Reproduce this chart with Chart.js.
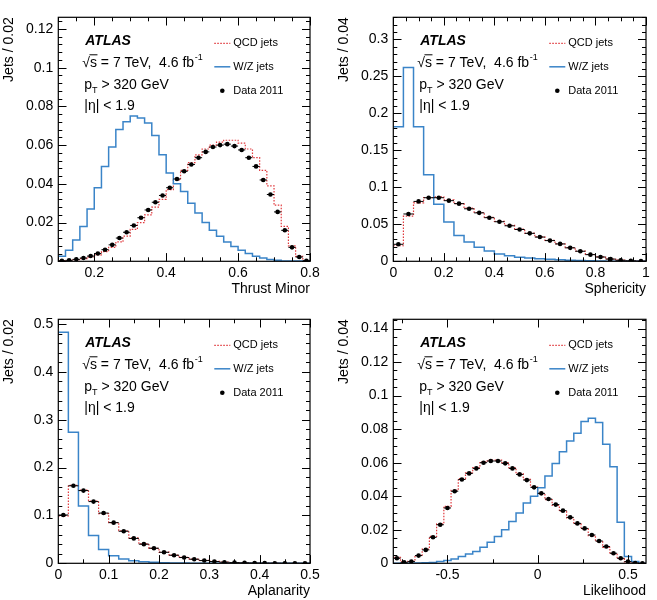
<!DOCTYPE html>
<html><head><meta charset="utf-8">
<script src="https://cdn.jsdelivr.net/npm/chart.js@4.4.1/dist/chart.umd.min.js"></script>
<style>
html,body{margin:0;padding:0;background:#fff;}
body{width:657px;height:600px;position:relative;overflow:hidden;}
canvas{position:absolute;}
</style></head><body>
<canvas id="c1" width="328" height="298" style="left:0;top:0"></canvas>
<canvas id="c2" width="322" height="298" style="left:335px;top:0"></canvas>
<canvas id="c3" width="328" height="298" style="left:0;top:302px"></canvas>
<canvas id="c4" width="322" height="298" style="left:335px;top:302px"></canvas>
<script>
// ---------- Thrust Minor (bins of 0.02 from 0.1) ----------
const tmBinStart = 0.1, tmBinWidth = 0.02;
const tmQCD = [0.0002,0.0004,0.0008,0.0014,0.0022,0.0033,0.005,0.0072,0.010,0.013,0.0165,0.020,0.024,0.028,0.032,0.037,0.042,0.047,0.051,0.055,0.058,0.060,0.0615,0.0625,0.0625,0.061,0.058,0.0535,0.047,0.039,0.029,0.018,0.008,0.0025,0.0004];
const tmWZ = [0.0026,0.0057,0.011,0.018,0.027,0.038,0.049,0.059,0.068,0.072,0.075,0.074,0.0714,0.065,0.055,0.0456,0.040,0.036,0.030,0.025,0.020,0.016,0.013,0.010,0.0077,0.0057,0.004,0.0026,0.0017,0.0009,0.0005,0.0002,0.0001,0.0001,0.0];
const tmData = [0.0003,0.0005,0.001,0.0017,0.0027,0.004,0.006,0.0085,0.012,0.015,0.0185,0.0225,0.0265,0.0305,0.034,0.038,0.0425,0.0465,0.050,0.0535,0.0565,0.059,0.060,0.0605,0.0595,0.0575,0.0535,0.049,0.042,0.0345,0.0255,0.016,0.0072,0.0022,0.0003];
const tmXTicks = [0.2,0.4,0.6,0.8], tmXLabels = ['0.2','0.4','0.6','0.8'];
const tmYTicks = [0,0.02,0.04,0.06,0.08,0.1,0.12], tmYLabels = ['0','0.02','0.04','0.06','0.08','0.1','0.12'];

// ---------- Sphericity (bins of 0.04 from 0) ----------
const spBinStart = 0, spBinWidth = 0.04;
const spQCD = [0.021,0.061,0.079,0.086,0.087,0.083,0.078,0.072,0.066,0.0595,0.054,0.0485,0.0435,0.038,0.033,0.0283,0.0237,0.0185,0.0138,0.0092,0.0059,0.0031,0.0015,0.0006,0.0002];
const spWZ = [0.182,0.262,0.182,0.117,0.077,0.053,0.035,0.026,0.019,0.014,0.010,0.0075,0.0055,0.0045,0.0036,0.0028,0.002,0.0015,0.001,0.0007,0.0004,0.0002,0.0001,0.0,0.0];
const spData = [0.023,0.064,0.081,0.086,0.086,0.082,0.078,0.071,0.0655,0.059,0.0535,0.048,0.043,0.0378,0.0328,0.028,0.0235,0.0182,0.0136,0.009,0.0058,0.003,0.0014,0.0006,0.0002];
const spXTicks = [0,0.2,0.4,0.6,0.8,1], spXLabels = ['0','0.2','0.4','0.6','0.8','1'];
const spYTicks = [0,0.05,0.1,0.15,0.2,0.25,0.3], spYLabels = ['0','0.05','0.1','0.15','0.2','0.25','0.3'];

// ---------- Aplanarity (bins of 0.02 from 0) ----------
const apBinStart = 0, apBinWidth = 0.02;
const apQCD = [0.099,0.163,0.153,0.130,0.104,0.085,0.068,0.053,0.0405,0.031,0.0235,0.017,0.0123,0.0088,0.006,0.0039,0.0024,0.0015,0.0009,0.0005,0.0003,0.0002,0.0001,0.0001,0.0];
const apWZ = [0.483,0.274,0.12,0.058,0.029,0.016,0.009,0.0055,0.0035,0.002,0.0012,0.0007,0.0004,0.0002,0.0001,0,0,0,0,0,0,0,0,0,0];
const apData = [0.101,0.162,0.152,0.129,0.105,0.085,0.067,0.052,0.040,0.0315,0.023,0.0168,0.012,0.0085,0.0057,0.0037,0.0023,0.0014,0.0009,0.0005,0.0003,0.0002,0.0001,0.0001,0.0];
const apXTicks = [0,0.1,0.2,0.3,0.4,0.5], apXLabels = ['0','0.1','0.2','0.3','0.4','0.5'];
const apYTicks = [0,0.1,0.2,0.3,0.4,0.5], apYLabels = ['0','0.1','0.2','0.3','0.4','0.5'];

// ---------- Likelihood (bins of 0.04 from -0.8) ----------
const lkBinStart = -0.8, lkBinWidth = 0.04;
const lkQCD = [0.0035,0.001,0.0012,0.0045,0.0085,0.016,0.0235,0.034,0.0435,0.0505,0.054,0.057,0.0605,0.0615,0.0615,0.060,0.057,0.0535,0.050,0.0455,0.0415,0.038,0.0345,0.031,0.027,0.0235,0.0205,0.0165,0.013,0.0095,0.0058,0.0028,0.0009,0.0002,0.0];
const lkWZ = [0,0,0.0001,0.0002,0.0003,0.0005,0.001,0.0016,0.0026,0.004,0.0056,0.007,0.0095,0.0125,0.016,0.020,0.025,0.030,0.036,0.040,0.045,0.052,0.0595,0.0665,0.073,0.0775,0.0845,0.0865,0.084,0.071,0.0576,0.0245,0.004,0.001,0];
const lkData = [0.003,0.0006,0.001,0.0046,0.008,0.0155,0.023,0.033,0.043,0.050,0.0536,0.0566,0.060,0.061,0.061,0.0596,0.0566,0.053,0.0496,0.0453,0.0417,0.0383,0.035,0.0314,0.0274,0.0238,0.0208,0.0169,0.0133,0.010,0.006,0.003,0.001,0.0002,0.0];
const lkXTicks = [-0.5,0,0.5], lkXLabels = ['-0.5','0','0.5'];
const lkYTicks = [0,0.02,0.04,0.06,0.08,0.1,0.12,0.14], lkYLabels = ['0','0.02','0.04','0.06','0.08','0.1','0.12','0.14'];

const FONT = '"Liberation Sans", Arial, Helvetica, sans-serif';
const RED = '#e0383c', BLUE = '#3a84c8';

function stepPts(start, w, vals) {
  const pts = vals.map((v, i) => ({x: start + i * w, y: v}));
  pts.push({x: start + vals.length * w, y: vals[vals.length - 1]});
  return pts;
}
function centerPts(start, w, vals) {
  return vals.map((v, i) => ({x: start + (i + 0.5) * w, y: v}));
}
function xErrPts(start, w, vals) {
  const pts = [];
  vals.forEach((v, i) => {
    pts.push({x: start + i * w, y: v}, {x: start + (i + 1) * w, y: v}, {x: start + (i + 1) * w, y: null});
  });
  return pts;
}
function multiples(min, max, step) {
  const out = [];
  const k0 = Math.ceil(min / step - 1e-6), k1 = Math.floor(max / step + 1e-6);
  for (let k = k0; k <= k1; k++) out.push(k * step);
  return out;
}

const frameTicks = {
  id: 'frameTicks',
  afterDatasetsDraw(chart) {
    const o = chart.options.plugins.frameTicks;
    const {ctx, chartArea: a} = chart;
    const xs = chart.scales.x, ys = chart.scales.y;
    ctx.save();
    ctx.strokeStyle = '#000';
    ctx.lineWidth = 1;
    ctx.beginPath();
    const xMaj = xs.ticks.map(t => t.value), yMaj = ys.ticks.map(t => t.value);
    for (const v of multiples(xs.min, xs.max, o.xMinor).concat(xMaj)) {
      const major = xMaj.some(m => Math.abs(m - v) < 1e-9);
      const L = major ? 8 : 4;
      const px = Math.round(xs.getPixelForValue(v)) + 0.5;
      ctx.moveTo(px, a.bottom); ctx.lineTo(px, a.bottom - L);
      ctx.moveTo(px, a.top); ctx.lineTo(px, a.top + L);
    }
    for (const v of multiples(ys.min, ys.max, o.yMinor).concat(yMaj)) {
      const major = yMaj.some(m => Math.abs(m - v) < 1e-9);
      const L = major ? 8 : 4;
      const py = Math.round(ys.getPixelForValue(v)) + 0.5;
      ctx.moveTo(a.left, py); ctx.lineTo(a.left + L, py);
      ctx.moveTo(a.right, py); ctx.lineTo(a.right - L, py);
    }
    ctx.stroke();
    ctx.lineWidth = 1.2;
    ctx.strokeRect(a.left, a.top, a.right - a.left, a.bottom - a.top);
    ctx.restore();
  }
};

const annot = {
  id: 'annot',
  afterDraw(chart) {
    const {ctx, chartArea: a} = chart;
    const L = a.left, T = a.top;
    ctx.save();
    ctx.fillStyle = '#000';
    ctx.strokeStyle = '#000';
    ctx.textBaseline = 'middle';
    ctx.textAlign = 'left';
    ctx.font = 'italic bold 14px ' + FONT;
    ctx.fillText('ATLAS', L + 27, T + 24);
    ctx.font = '14px ' + FONT;
    let x = L + 24, y = T + 46;
    ctx.fillText('\u221A', x, y);
    x += ctx.measureText('\u221A').width;
    const sw = ctx.measureText('s').width;
    ctx.fillText('s', x, y);
    ctx.beginPath(); ctx.lineWidth = 1;
    ctx.moveTo(x - 0.5, y - 8.5); ctx.lineTo(x + sw + 0.5, y - 8.5); ctx.stroke();
    x += sw;
    const t1 = ' = 7 TeV,  4.6 fb';
    ctx.fillText(t1, x, y);
    x += ctx.measureText(t1).width;
    ctx.font = '9px ' + FONT;
    ctx.fillText('-1', x + 0.5, y - 6);
    ctx.font = '14px ' + FONT;
    x = L + 26; y = T + 68;
    ctx.fillText('p', x, y);
    x += ctx.measureText('p').width;
    ctx.font = '9px ' + FONT;
    ctx.fillText('T', x, y + 5);
    x += ctx.measureText('T').width;
    ctx.font = '14px ' + FONT;
    ctx.fillText(' > 320 GeV', x, y);
    ctx.fillText('|\u03B7| < 1.9', L + 26, T + 89);
    // legend
    ctx.font = '11px ' + FONT;
    const lx0 = L + 156, lx1 = L + 172, tx = L + 175;
    ctx.beginPath(); ctx.strokeStyle = RED; ctx.lineWidth = 1.2; ctx.setLineDash([1.5, 1.5]);
    ctx.moveTo(lx0, T + 26); ctx.lineTo(lx1, T + 26); ctx.stroke();
    ctx.setLineDash([]);
    ctx.beginPath(); ctx.strokeStyle = BLUE; ctx.lineWidth = 1.5;
    ctx.moveTo(lx0, T + 49.5); ctx.lineTo(lx1, T + 49.5); ctx.stroke();
    ctx.beginPath(); ctx.fillStyle = '#000';
    ctx.arc((lx0 + lx1) / 2, T + 73.5, 2.3, 0, Math.PI * 2); ctx.fill();
    ctx.fillText('QCD jets', tx, T + 26);
    ctx.fillText('W/Z jets', tx, T + 49.5);
    ctx.fillText('Data 2011', tx, T + 73.5);
    ctx.restore();
  }
};

function makePanel(id, p) {
  const ctx = document.getElementById(id).getContext('2d');
  new Chart(ctx, {
    type: 'line',
    data: {
      datasets: [
        {label: 'Data 2011', data: centerPts(p.start, p.width, p.data), showLine: false,
         pointRadius: 2.3, pointBorderWidth: 0, pointBackgroundColor: '#000', borderColor: '#000', order: 0},
        {label: 'Data 2011 x-err', data: xErrPts(p.start, p.width, p.data), borderColor: '#000',
         borderWidth: 1, pointRadius: 0, spanGaps: false, order: 1},
        {label: 'W/Z jets', data: stepPts(p.start, p.width, p.wz), stepped: true, borderColor: BLUE,
         borderWidth: 1.5, pointRadius: 0, fill: false, order: 2},
        {label: 'QCD jets', data: stepPts(p.start, p.width, p.qcd), stepped: true, borderColor: RED,
         borderWidth: 1.2, borderDash: [1.5, 1.5], pointRadius: 0, fill: false, order: 3}
      ]
    },
    options: {
      responsive: false, animation: false, events: [],
      layout: {padding: {left: 0, top: 17.3, right: p.padRight, bottom: 0}},
      plugins: {legend: {display: false}, tooltip: {enabled: false}, frameTicks: {xMinor: p.xMinor, yMinor: p.yMinor}},
      scales: {
        x: {
          type: 'linear', min: p.xmin, max: p.xmax,
          grid: {display: false, drawTicks: false}, border: {display: false},
          afterBuildTicks: s => { s.ticks = p.xTicks.map(v => ({value: v})); },
          afterFit: s => { s.height = 36.7; },
          ticks: {autoSkip: false, maxRotation: 0, padding: 3, color: '#000',
                  font: {family: FONT, size: 14}, callback: (v, i) => p.xLabels[i]},
          title: {display: true, text: p.xTitle, align: 'end', color: '#000',
                  font: {family: FONT, size: 14}, padding: {top: 0, bottom: 0}}
        },
        y: {
          type: 'linear', min: 0, max: p.ymax,
          grid: {display: false, drawTicks: false}, border: {display: false},
          afterBuildTicks: s => { s.ticks = p.yTicks.map(v => ({value: v})); },
          afterFit: s => { s.width = 58.3; },
          ticks: {autoSkip: false, padding: 5, color: '#000',
                  font: {family: FONT, size: 14}, callback: (v, i) => p.yLabels[i]},
          title: {display: true, text: p.yTitle, align: 'end', color: '#000',
                  font: {family: FONT, size: 14}, padding: {top: 1, bottom: 0}}
        }
      }
    },
    plugins: [frameTicks, annot]
  });
}

makePanel('c1', {start: tmBinStart, width: tmBinWidth, qcd: tmQCD, wz: tmWZ, data: tmData,
  xmin: 0.1, xmax: 0.8, ymax: 0.126, xTicks: tmXTicks, xLabels: tmXLabels, yTicks: tmYTicks, yLabels: tmYLabels,
  xMinor: 0.05, yMinor: 0.004, xTitle: 'Thrust Minor', yTitle: 'Jets / 0.02', padRight: 18});
makePanel('c2', {start: spBinStart, width: spBinWidth, qcd: spQCD, wz: spWZ, data: spData,
  xmin: 0, xmax: 1, ymax: 0.33, xTicks: spXTicks, xLabels: spXLabels, yTicks: spYTicks, yLabels: spYLabels,
  xMinor: 0.05, yMinor: 0.01, xTitle: 'Sphericity', yTitle: 'Jets / 0.04', padRight: 11});
makePanel('c3', {start: apBinStart, width: apBinWidth, qcd: apQCD, wz: apWZ, data: apData,
  xmin: 0, xmax: 0.5, ymax: 0.51, xTicks: apXTicks, xLabels: apXLabels, yTicks: apYTicks, yLabels: apYLabels,
  xMinor: 0.05, yMinor: 0.02, xTitle: 'Aplanarity', yTitle: 'Jets / 0.02', padRight: 18});
makePanel('c4', {start: lkBinStart, width: lkBinWidth, qcd: lkQCD, wz: lkWZ, data: lkData,
  xmin: -0.8, xmax: 0.6, ymax: 0.1455, xTicks: lkXTicks, xLabels: lkXLabels, yTicks: lkYTicks, yLabels: lkYLabels,
  xMinor: 0.25, yMinor: 0.005, xTitle: 'Likelihood', yTitle: 'Jets / 0.04', padRight: 11});
</script>
</body></html>
